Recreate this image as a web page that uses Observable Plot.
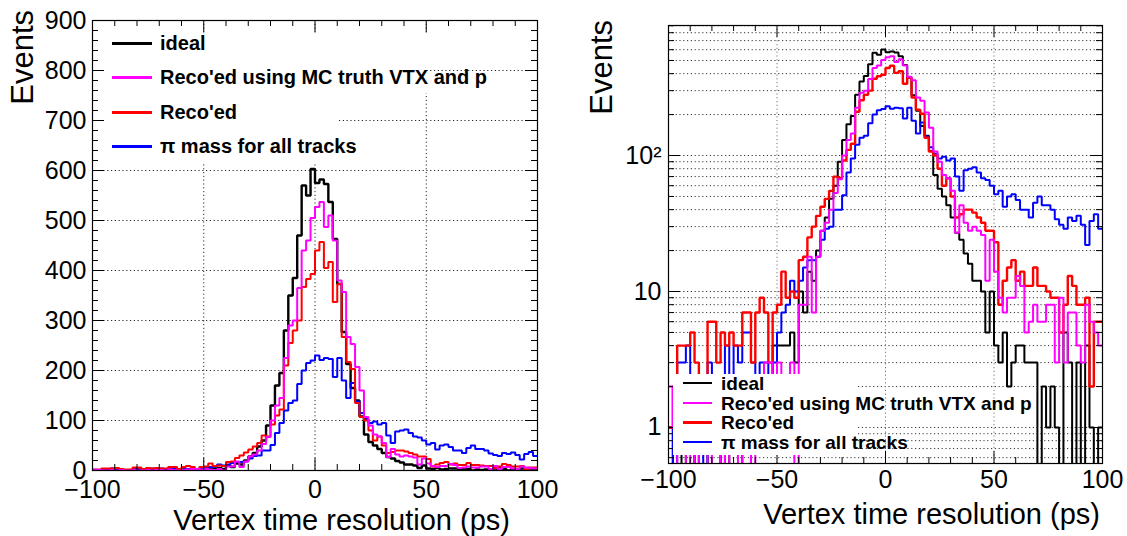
<!DOCTYPE html>
<html><head><meta charset="utf-8">
<script src="https://cdn.jsdelivr.net/npm/d3@7"></script>
<script src="https://cdn.jsdelivr.net/npm/@observablehq/plot@0.6"></script>
<style>
body{margin:0;background:#fff;}
#wrap{position:relative;width:1127px;height:536px;overflow:hidden;font-family:"Liberation Sans",Arial,Helvetica,sans-serif;color:#000;}
#wrap svg{position:absolute;top:0;}
.box{position:absolute;background:#fff;}
.leg{position:absolute;font-weight:bold;white-space:nowrap;line-height:1;}
.sample{position:absolute;height:0;}
.title{position:absolute;white-space:nowrap;line-height:1;}
</style></head>
<body><div id="wrap"></div>
<script>
// ---- data: 100 bins of 2 ps from -100 to 100 ps ----
const binLow = -100, binWidth = 2;
const ideal = [1,0,0,1,0,0,1,0,0,1,2,1,0,0,1,1,2,0,0,1,2,2,1,2,4,
  4,4,4,5,3,10,7,14,12,20,28,35,48,60,90,130,170,195,280,350,385,470,570,550,603,
  575,582,573,537,463,373,277,213,165,140,108,72,57,50,43,35,27,24,19,16,
  12,12,10,5,10,4,3,5,2,3,4,4,3,3,3,0,2,1,2,1,0,5,3,0,3,0,4,1,0,1];
const recoMC = [2,1,0,0,1,0,1,0,0,1,0,0,1,0,1,1,0,2,1,0,1,2,3,3,2,3,2,1,3,0,
  8,8,18,7,18,28,32,40,53,67,100,130,145,225,290,300,365,440,460,505,
  527,537,487,510,460,380,357,267,253,207,160,107,90,72,68,55,
  27,43,32,28,30,28,26,12,24,14,9,7,9,9,13,11,5,6,8,6,6,8,8,3,9,3,7,7,4,3,8,6,5,4];
const reco = [1,2,4,4,4,5,3,2,2,6,6,3,5,4,5,4,4,7,7,3,7,9,7,3,7,
  8,14,9,10,9,17,18,25,30,36,42,48,55,70,68,92,110,122,210,255,280,300,367,383,393,
  440,457,405,417,337,373,267,217,203,135,107,100,80,60,68,50,
  35,37,40,40,38,35,32,28,28,23,8,12,15,17,12,14,11,11,15,11,11,10,9,9,5,8,13,11,8,8,9,2,6,6];
const piMass = [1,0,3,3,4,2,0,1,0,3,2,1,0,4,2,4,3,5,5,3,2,3,3,2,3,
  5,7,8,12,10,12,15,17,17,18,24,29,30,40,40,51,75,95,120,135,140,173,200,215,220,
  230,221,225,223,187,225,180,145,175,138,115,
  103,95,98,92,95,70,55,78,80,82,75,68,66,60,52,55,42,50,52,47,40,40,35,45,50,43,43,40,34,31,29,35,33,36,31,22,33,37,29];

const seriesNames = ["ideal", "Reco'ed using MC truth VTX and p", "Reco'ed", "\u03c0 mass for all tracks"];
const seriesColors = ["#000000", "#ff00ff", "#ff0000", "#0000ff"];
const seriesValues = [ideal, recoMC, reco, piMass];
const drawOrder = [0, 3, 2, 1];

const xMajor = [-100, -50, 0, 50, 100];
const xGrid = [-50, 0, 50];
const linTicks = [0, 100, 200, 300, 400, 500, 600, 700, 800, 900];
const logLabelTicks = [1, 10, 100];
const logLabelText = ["1", "10", "10\u00b2"];
const xAxisTitle = "Vertex time resolution (ps)";
const yAxisTitle = "Events";

// ---- helpers ----
const FONT = "Liberation Sans, Arial, Helvetica, sans-serif";
const xMinor = d3.range(-100, 101, 10).filter(v => !xMajor.includes(v));
const linMinor = d3.range(0, 901, 20).filter(v => v % 100 !== 0);
const logAll = [];
for (const dec of [0.1, 1, 10, 100]) for (let m = 1; m <= 9; m++) { const v = +(m * dec).toPrecision(3); if (v >= 0.6 && v <= 900) logAll.push(v); }
const logMinor = logAll.filter(v => !logLabelTicks.includes(v));

function histMark(values, color, width, floor) {
  const pts = values.map((v, i) => ({x: binLow + i * binWidth, y: floor != null ? Math.max(v, floor) : v}));
  pts.push({x: binLow + values.length * binWidth, y: pts[pts.length - 1].y});
  return Plot.line(pts, {x: "x", y: "y", curve: "step-after", stroke: color, strokeWidth: width,
    strokeLinejoin: "miter", strokeLinecap: "butt", clip: true});
}

function tickMarks(xLo, xHi, yLo, yHi, yMajor, yMinor) {
  const c = {stroke: "#000", strokeWidth: 1};
  return [
    Plot.ruleX(xMajor, {x: d => d, y1: yLo, y2: yLo, insetTop: -12, ...c}),
    Plot.ruleX(xMinor, {x: d => d, y1: yLo, y2: yLo, insetTop: -6, ...c}),
    Plot.ruleX(xMajor, {x: d => d, y1: yHi, y2: yHi, insetBottom: -12, ...c}),
    Plot.ruleX(xMinor, {x: d => d, y1: yHi, y2: yHi, insetBottom: -6, ...c}),
    Plot.ruleY(yMajor, {y: d => d, x1: xLo, x2: xLo, insetRight: -12, ...c}),
    Plot.ruleY(yMinor, {y: d => d, x1: xLo, x2: xLo, insetRight: -6, ...c}),
    Plot.ruleY(yMajor, {y: d => d, x1: xHi, x2: xHi, insetLeft: -12, ...c}),
    Plot.ruleY(yMinor, {y: d => d, x1: xHi, x2: xHi, insetLeft: -6, ...c})
  ];
}

const wrap = document.getElementById("wrap");

// ---- left: linear ----
const left = Plot.plot({
  width: 560, height: 536,
  marginLeft: 92, marginRight: 23, marginTop: 20, marginBottom: 66,
  style: {fontFamily: FONT, fontSize: "25px", background: "transparent", overflow: "visible"},
  x: {domain: [-100, 100]},
  y: {domain: [0, 900]},
  marks: [
    Plot.ruleY(linTicks.filter(v => v > 0 && v < 900), {y: d => d, stroke: "#000", strokeWidth: 1, strokeDasharray: "1.2,2.6", strokeOpacity: 0.85}),
    Plot.ruleX(xGrid, {x: d => d, stroke: "#000", strokeWidth: 1, strokeDasharray: "1.2,2.6", strokeOpacity: 0.85}),
    ...drawOrder.map(i => histMark(seriesValues[i], seriesColors[i], i === 0 ? 2.4 : 2, null)),
    Plot.frame({stroke: "#000", strokeWidth: 1.2}),
    ...tickMarks(-100, 100, 0, 900, linTicks, linMinor),
    Plot.axisX(xMajor, {anchor: "bottom", label: null, tickSize: 0, tickPadding: 10, fontSize: 25}),
    Plot.axisY(linTicks, {anchor: "left", label: null, tickSize: 0, tickPadding: 6, fontSize: 25})
  ]
});
left.style.left = "0px";
wrap.appendChild(left);

// ---- right: log ----
const right = Plot.plot({
  width: 567, height: 536,
  marginLeft: 108, marginRight: 25, marginTop: 25, marginBottom: 73,
  style: {fontFamily: FONT, fontSize: "25px", background: "transparent", overflow: "visible"},
  x: {domain: [-100, 100]},
  y: {type: "log", domain: [0.5435, 904]},
  marks: [
    Plot.ruleY(logAll, {y: d => d, stroke: "#000", strokeWidth: 1, strokeDasharray: "1.2,2.6", strokeOpacity: 0.8}),
    Plot.ruleX(xGrid, {x: d => d, stroke: "#777", strokeWidth: 1, strokeDasharray: "1.2,2.6"}),
    ...drawOrder.map(i => histMark(seriesValues[i], seriesColors[i], i === 2 ? 2.4 : 2, 0.3)),
    Plot.frame({stroke: "#000", strokeWidth: 1.2}),
    ...tickMarks(-100, 100, 0.5435, 904, logLabelTicks, logMinor),
    Plot.axisX(xMajor, {anchor: "bottom", label: null, tickSize: 0, tickPadding: 7, fontSize: 25}),
    Plot.axisY(logLabelTicks, {anchor: "left", label: null, tickSize: 0, tickPadding: 7, fontSize: 25,
      tickFormat: d => logLabelText[logLabelTicks.indexOf(d)]})
  ]
});
right.style.left = "560px";
wrap.appendChild(right);

// ---- overlays: legends & titles ----
function addDiv(cls, css, text) {
  const d = document.createElement("div");
  d.className = cls;
  Object.assign(d.style, css);
  if (text != null) d.textContent = text;
  wrap.appendChild(d);
  return d;
}
// left legend
addDiv("box", {left: "104px", top: "33px", width: "233px", height: "130px"});
addDiv("box", {left: "104px", top: "33px", width: "323px", height: "60px"});
const legL = {rows: [43, 77, 112, 146], x0: 112, x1: 152, tx: 160, fs: 20};
seriesNames.forEach((name, i) => {
  const y = legL.rows[i];
  addDiv("sample", {left: legL.x0 + "px", width: (legL.x1 - legL.x0) + "px", top: (y - 1.5) + "px", borderTop: `3px solid ${seriesColors[i]}`});
  addDiv("leg", {left: legL.tx + "px", top: (y - legL.fs / 2) + "px", fontSize: legL.fs + "px"}, name);
});
// right legend
addDiv("box", {left: "673px", top: "374px", width: "185px", height: "81px"});
const legR = {rows: [383, 403, 422, 442], x0: 683, x1: 712, tx: 721, fs: 19};
seriesNames.forEach((name, i) => {
  const y = legR.rows[i];
  const w = i === 2 ? 3 : 2;
  addDiv("sample", {left: legR.x0 + "px", width: (legR.x1 - legR.x0) + "px", top: (y - w / 2) + "px", borderTop: `${w}px solid ${seriesColors[i]}`});
  addDiv("leg", {left: legR.tx + "px", top: (y - legR.fs / 2) + "px", fontSize: legR.fs + "px"}, name);
});
// axis titles
addDiv("title", {right: (1127 - 510) + "px", top: "506px", fontSize: "29px"}, xAxisTitle);
addDiv("title", {right: (1127 - 1100) + "px", top: "500px", fontSize: "29px"}, xAxisTitle);
addDiv("title", {left: "22px", top: "10px", fontSize: "31px", transformOrigin: "0 0", transform: "rotate(-90deg) translate(-100%, -50%)"}, yAxisTitle);
addDiv("title", {left: "601px", top: "20px", fontSize: "31px", transformOrigin: "0 0", transform: "rotate(-90deg) translate(-100%, -50%)"}, yAxisTitle);
</script>
</body></html>
